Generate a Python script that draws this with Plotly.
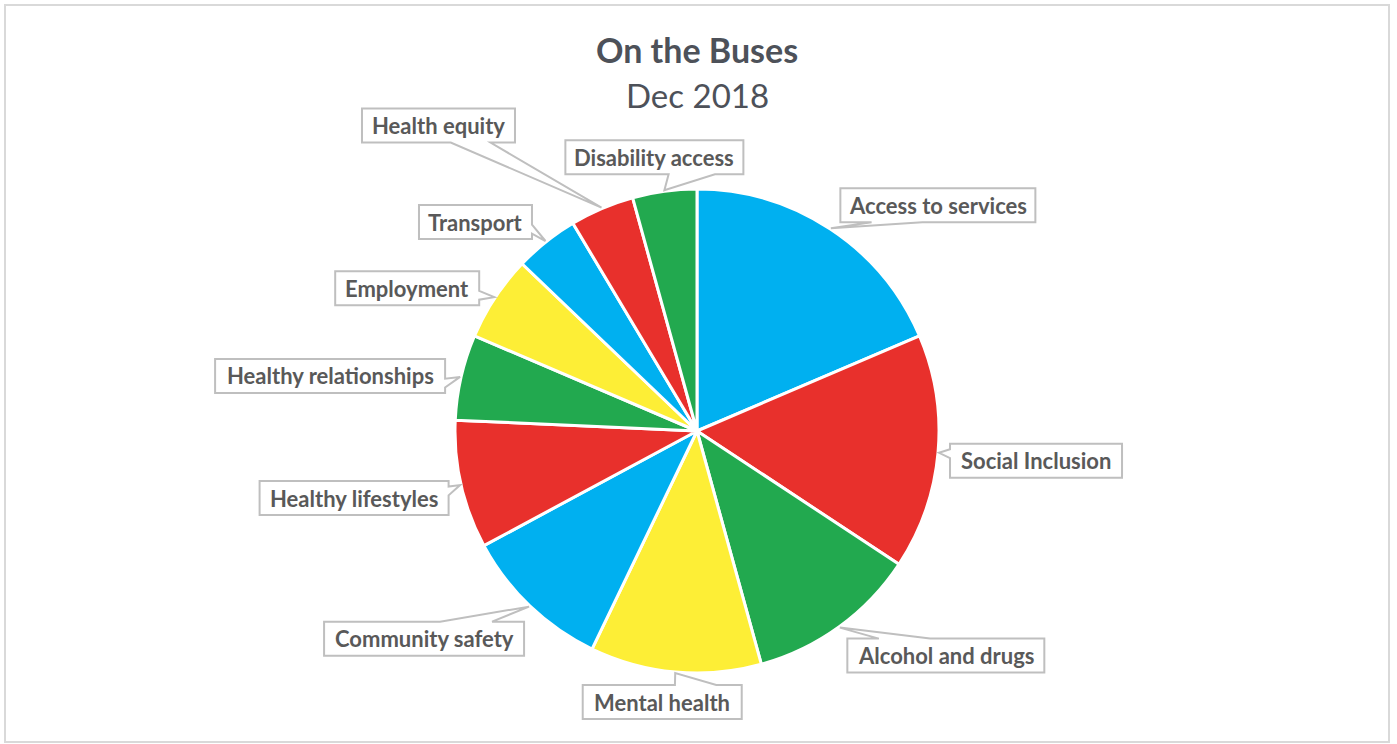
import math
import plotly.graph_objects as go

# ---------------- data ----------------
categories = ["Access to services", "Social Inclusion", "Alcohol and drugs", "Mental health",
              "Community safety", "Healthy lifestyles", "Healthy relationships", "Employment",
              "Transport", "Health equity", "Disability access"]
values = [13, 11, 8, 8, 7, 6, 4, 4, 3, 3, 3]
title_text = "On the Buses"
subtitle_text = "Dec 2018"

# ---------------- styling / layout ----------------
slice_colors = ["#00B0F0", "#E8302C", "#22A94F", "#FDEE36", "#00B0F0", "#E8302C",
                "#22A94F", "#FDEE36", "#00B0F0", "#E8302C", "#22A94F"]
W, H = 1397, 744
CX, CY, R = 697, 431, 242
# label box offset (px) from the slice tip, and box widths (px)
label_offsets = [(107, -23), (97, 8), (106, 28), (-13, 29), (-105, 32), (-106, 13),
                 (-130, -1), (-87, -9), (-70, -19), (-163, -82), (-10, -33)]
box_widths = [195, 172, 197, 159, 200, 189, 230, 144, 113, 153, 178]
BOX_H = 34
FONT = "Lato"
LABEL_COLOR = "#595959"
BOX_LINE = "#BFBFBF"


def px(x, y):
    return x / W, 1 - y / H


fig = go.Figure()
fig.add_trace(go.Pie(
    labels=categories, values=values, sort=False, direction="clockwise", rotation=0,
    marker=dict(colors=slice_colors, line=dict(color="white", width=3)),
    textinfo="none", hoverinfo="label+value+percent", showlegend=False,
    domain=dict(x=[(CX - R) / W, (CX + R) / W], y=[1 - (CY + R) / H, 1 - (CY - R) / H]),
))

shapes = []
annotations = []

# outer chart border
x0, y0 = px(5, 5)
x1, y1 = px(1389, 742)
shapes.append(dict(type="rect", xref="paper", yref="paper", x0=x0, y0=y1, x1=x1, y1=y0,
                   line=dict(color="#D9D9D9", width=2), layer="below"))

total = sum(values)
cum = 0
for i, (lab, v) in enumerate(zip(categories, values)):
    mid = (cum + v / 2) / total * 360
    cum += v
    theta = math.radians(90 - mid)
    tx = CX + (R + 1) * math.cos(theta)
    ty = CY - (R + 1) * math.sin(theta)
    ox, oy = label_offsets[i]
    bw = box_widths[i]
    cx, cy = tx + ox, ty + oy
    L, Rr = cx - bw / 2, cx + bw / 2
    T, B = cy - BOX_H / 2, cy + BOX_H / 2
    ndx = (tx - cx) / (bw / 2)
    ndy = (ty - cy) / (BOX_H / 2)
    if abs(ndx) > abs(ndy):
        edge = "right" if ndx > 0 else "left"
    else:
        edge = "bottom" if ndy > 0 else "top"
    fx = (0.16, 0.42) if tx < cx else (0.58, 0.84)
    fy = (0.16, 0.42) if ty < cy else (0.58, 0.84)
    pts = [(L, T)]
    if edge == "top":
        pts += [(L + fx[0] * bw, T), (tx, ty), (L + fx[1] * bw, T)]
    pts.append((Rr, T))
    if edge == "right":
        pts += [(Rr, T + fy[0] * BOX_H), (tx, ty), (Rr, T + fy[1] * BOX_H)]
    pts.append((Rr, B))
    if edge == "bottom":
        pts += [(L + fx[1] * bw, B), (tx, ty), (L + fx[0] * bw, B)]
    pts.append((L, B))
    if edge == "left":
        pts += [(L, T + fy[1] * BOX_H), (tx, ty), (L, T + fy[0] * BOX_H)]
    path = ""
    for j, (a, b) in enumerate(pts):
        pa, pb = px(a, b)
        path += ("M" if j == 0 else " L") + f"{pa:.5f},{pb:.5f}"
    path += " Z"
    shapes.append(dict(type="path", xref="paper", yref="paper", path=path,
                       fillcolor="white", line=dict(color=BOX_LINE, width=2), layer="above"))
    ax, ay = px(cx, cy)
    annotations.append(dict(x=ax, y=ay, xref="paper", yref="paper", showarrow=False,
                            xanchor="center", yanchor="middle", text=f"<b>{lab}</b>",
                            font=dict(family=FONT, size=22, color=LABEL_COLOR)))

tx_, ty_ = px(697, 49)
annotations.append(dict(x=tx_, y=ty_, xref="paper", yref="paper", showarrow=False,
                        xanchor="center", yanchor="middle", text=f"<b>{title_text}</b>",
                        font=dict(family=FONT, size=34, color="#4D5159")))
sx_, sy_ = px(697, 95)
annotations.append(dict(x=sx_, y=sy_, xref="paper", yref="paper", showarrow=False,
                        xanchor="center", yanchor="middle", text=subtitle_text,
                        font=dict(family=FONT, size=33, color="#4D5159")))

fig.update_layout(width=W, height=H, margin=dict(l=0, r=0, t=0, b=0),
                  paper_bgcolor="white", plot_bgcolor="white",
                  shapes=shapes, annotations=annotations)
fig.write_html("out.html")
